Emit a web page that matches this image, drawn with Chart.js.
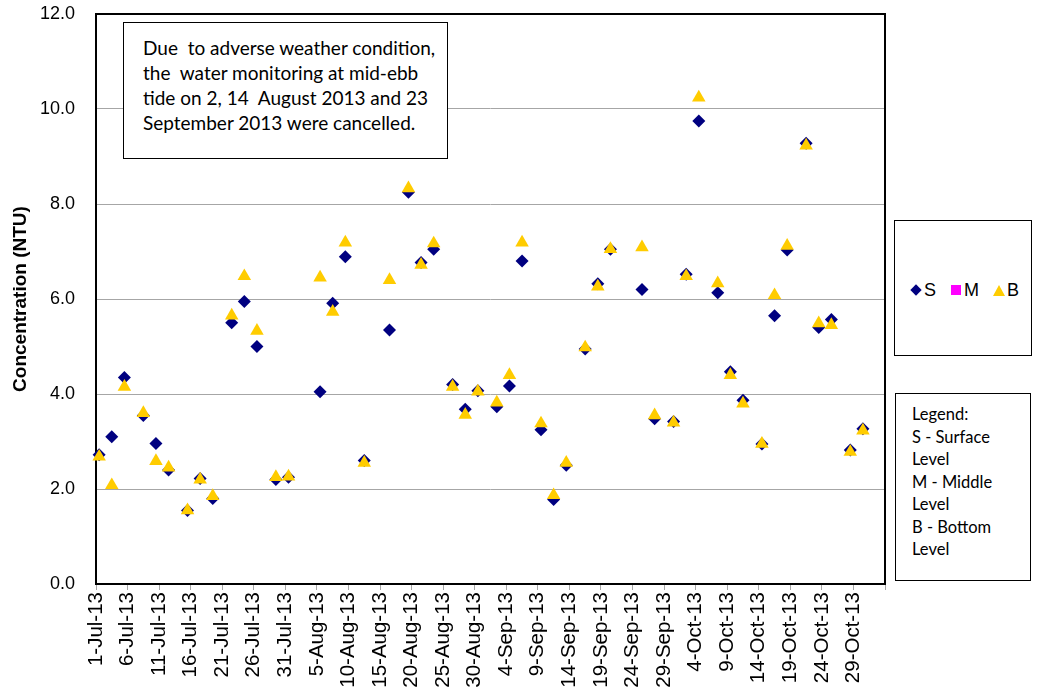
<!DOCTYPE html>
<html>
<head>
<meta charset="utf-8">
<script src="https://cdn.jsdelivr.net/npm/chart.js@4.4.1/dist/chart.umd.min.js"></script>
<style>
    html, body { margin: 0; padding: 0; background: #fff; }
    #wrap { position: relative; width: 1039px; height: 698px; }
    #chart { position: absolute; left: 0; top: 0; }
    .box { position: absolute; background: #fff; border: 1.5px solid #000; box-sizing: border-box; color: #000; }
    #note { left: 123px; top: 22px; width: 325px; height: 137px; font-family: Lato, sans-serif; font-size: 19px; line-height: 25px; padding: 12px 0 0 19px; white-space: pre; }
    #keyBox { left: 894px; top: 220px; width: 138px; height: 136px; font-family: "Liberation Sans", Arial, sans-serif; font-size: 18px; }
    #keyRow { position: absolute; left: 17px; top: 57px; white-space: nowrap; line-height: 22px; }
    #keyRow span { display: inline-block; vertical-align: middle; }
    .dia { width: 8px; height: 8px; background: #000080; transform: rotate(45deg); margin-right: 4px; }
    .sq { width: 10px; height: 10px; background: #ff00ff; margin: 0 3px 0 15px; }
    .tri { width: 0; height: 0; border-left: 6px solid transparent; border-right: 6px solid transparent; border-bottom: 11px solid #ffcc00; margin: 0 2px 0 14px; }
    #legendNote { left: 895px; top: 393px; width: 136px; height: 188px; font-family: Lato, sans-serif; font-size: 16.5px; line-height: 22.5px; padding: 9px 0 0 16px; }
</style>
</head>
<body>
<div id="wrap">
    <canvas id="chart" width="1039" height="698"></canvas>
    <div class="box" id="note">Due  to adverse weather condition,
the  water monitoring at mid-ebb
tide on 2, 14  August 2013 and 23
September 2013 were cancelled.</div>
    <div class="box" id="keyBox">
        <div id="keyRow"><span class="dia"></span><span>S</span><span class="sq"></span><span>M</span><span class="tri"></span><span>B</span></div>
    </div>
    <div class="box" id="legendNote">Legend:<br>S - Surface<br>Level<br>M - Middle<br>Level<br>B - Bottom<br>Level</div>
</div>
<script>
// sampling dates (mid-ebb tide)
const sampleDates = [
    '2013-07-01', '2013-07-03', '2013-07-05', '2013-07-08', '2013-07-10', '2013-07-12', '2013-07-15',
    '2013-07-17', '2013-07-19', '2013-07-22', '2013-07-24', '2013-07-26', '2013-07-29', '2013-07-31',
    '2013-08-05', '2013-08-07', '2013-08-09', '2013-08-12', '2013-08-16', '2013-08-19', '2013-08-21',
    '2013-08-23', '2013-08-26', '2013-08-28', '2013-08-30', '2013-09-02', '2013-09-04', '2013-09-06',
    '2013-09-09', '2013-09-11', '2013-09-13', '2013-09-16', '2013-09-18', '2013-09-20', '2013-09-25',
    '2013-09-27', '2013-09-30', '2013-10-02', '2013-10-04', '2013-10-07', '2013-10-09', '2013-10-11',
    '2013-10-14', '2013-10-16', '2013-10-18', '2013-10-21', '2013-10-23', '2013-10-25', '2013-10-28',
    '2013-10-30'
];

// turbidity, NTU
const surface = [
    2.72, 3.10, 4.35, 3.55, 2.96, 2.40, 1.55, 2.22, 1.80, 5.50, 5.95, 5.00, 2.20, 2.25,
    4.05, 5.91, 6.89, 2.60, 5.35, 8.25, 6.77, 7.05, 4.20, 3.68, 4.07, 3.73, 4.17, 6.80,
    3.25, 1.78, 2.50, 4.95, 6.32, 7.05, 6.20, 3.48, 3.42, 6.52, 9.75, 6.13, 4.47, 3.87,
    2.95, 5.65, 7.03, 9.28, 5.40, 5.57, 2.82, 3.27
];
const middle = [];
const bottom = [
    2.68, 2.08, 4.15, 3.60, 2.59, 2.45, 1.55, 2.20, 1.85, 5.65, 6.48, 5.33, 2.25, 2.26,
    6.45, 5.73, 7.19, 2.55, 6.40, 8.33, 6.72, 7.17, 4.15, 3.56, 4.05, 3.82, 4.40, 7.19,
    3.38, 1.87, 2.55, 4.98, 6.26, 7.05, 7.09, 3.55, 3.40, 6.48, 10.24, 6.33, 4.40, 3.80,
    2.95, 6.08, 7.12, 9.23, 5.49, 5.45, 2.78, 3.23
];

const yTicks = [0, 2, 4, 6, 8, 10, 12];
const axisStart = '2013-07-01';
const axisDays = 125;   // 1-Jul-13 .. 3-Nov-13
const tickEvery = 5;

const DAY = 86400000;
const t0 = Date.parse(axisStart);
const MONTHS = ['Jan', 'Feb', 'Mar', 'Apr', 'May', 'Jun', 'Jul', 'Aug', 'Sep', 'Oct', 'Nov', 'Dec'];

// points sit in the middle of their day
const toPoints = vals => vals.map((v, i) => ({ x: (Date.parse(sampleDates[i]) - t0) / DAY + 0.5, y: v }));

function dayLabel(d) {
    if (d >= axisDays) return '';
    const dt = new Date(t0 + d * DAY);
    return dt.getUTCDate() + '-' + MONTHS[dt.getUTCMonth()] + '-' + String(dt.getUTCFullYear()).slice(2);
}

const frame = {
    id: 'frame',
    beforeDatasetsDraw(chart) {
        const { ctx, chartArea: a } = chart;
        ctx.save();
        ctx.strokeStyle = '#000';
        ctx.lineWidth = 2;
        ctx.strokeRect(a.left, a.top, a.right - a.left, a.bottom - a.top);
        ctx.restore();
    }
};

const font = { family: '"Liberation Sans", Arial, sans-serif' };

new Chart(document.getElementById('chart'), {
    type: 'scatter',
    data: {
        datasets: [
            { label: 'S', data: toPoints(surface), pointStyle: 'rectRot', pointRadius: 6.5, backgroundColor: '#000080', borderColor: '#000080', borderWidth: 0, order: 3, clip: false },
            { label: 'M', data: toPoints(middle), pointStyle: 'rect', pointRadius: 5, backgroundColor: '#ff00ff', borderColor: '#ff00ff', borderWidth: 0, order: 2, clip: false },
            { label: 'B', data: toPoints(bottom), pointStyle: 'triangle', pointRadius: 7.8, backgroundColor: '#ffcc00', borderColor: '#ffcc00', borderWidth: 0, order: 1, clip: false }
        ]
    },
    options: {
        responsive: false,
        animation: false,
        layout: { padding: { top: 14, right: 154, left: 0, bottom: 0 } },
        plugins: { legend: { display: false }, tooltip: { enabled: false } },
        scales: {
            x: {
                type: 'linear',
                min: 0,
                max: axisDays,
                afterFit: s => { s.height = 114; },
                afterBuildTicks: s => { s.ticks = []; for (let d = 0; d <= axisDays; d += tickEvery) s.ticks.push({ value: d }); },
                ticks: {
                    autoSkip: false, minRotation: 90, maxRotation: 90, padding: 2,
                    color: '#000', font: { ...font, size: 20.5 },
                    callback: v => dayLabel(v)
                },
                grid: { drawOnChartArea: false, drawTicks: true, tickLength: 6, color: '#a6a6a6' },
                border: { display: false }
            },
            y: {
                min: 0,
                max: 12,
                afterFit: s => { s.width = 96; },
                afterBuildTicks: s => { s.ticks = yTicks.map(v => ({ value: v })); },
                ticks: { padding: 3, color: '#000', font: { ...font, size: 18 }, callback: v => v.toFixed(1) },
                grid: { drawTicks: true, tickLength: 18, tickColor: 'rgba(0,0,0,0)', color: '#a6a6a6', lineWidth: 1 },
                border: { display: false },
                title: {
                    display: true, text: 'Concentration (NTU)', color: '#000',
                    font: { ...font, size: 19, weight: 'bold' }, padding: { top: 9, bottom: 0 }
                }
            }
        }
    },
    plugins: [frame]
});
</script>
</body>
</html>
